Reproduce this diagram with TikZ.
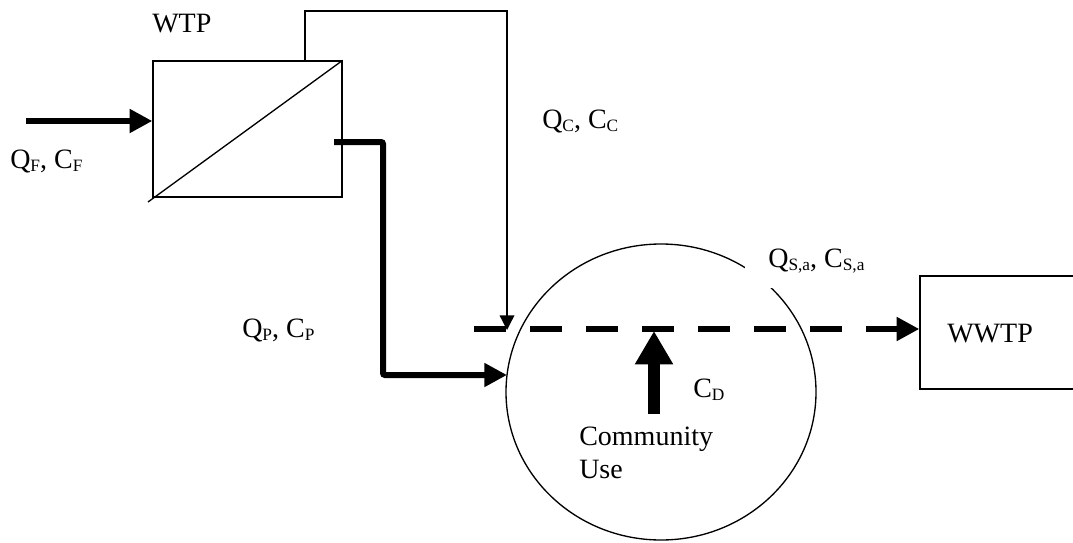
\documentclass[tikz,border=0pt]{standalone}
\usepackage{fontspec}
\setmainfont{Liberation Serif}
\usetikzlibrary{arrows.meta,shapes.geometric}
\newcommand{\lo}[1]{\raisebox{-0.12em}{\fontsize{13}{13}\selectfont #1}}
\begin{document}
\begin{tikzpicture}[x=0.75pt,y=-0.75pt,
  lbl/.style={anchor=base west, inner sep=0pt, font=\fontsize{21}{25}\selectfont},
  thinline/.style={line width=1pt},
  box/.style={draw, thinline, rectangle, inner sep=0pt},
  flow/.style={line width=4.5pt, -{Triangle[length=17pt,width=17pt]}},
  conc/.style={thinline, -{Triangle[length=11pt,width=11pt]}},
  sewer/.style={line width=5pt, dash pattern=on 24pt off 18pt, -{Triangle[length=17pt,width=17pt]}},
  demand/.style={line width=9pt, -{Triangle[length=25pt,width=27pt]}}]
\useasboundingbox (0,0) rectangle (1073,542);

% boxes and circle
\node[box, minimum width=141.75pt, minimum height=102pt] (wtp) at (247.5,129) {};
\node[box, minimum width=117pt, minimum height=84.75pt] (wwtp) at (998,332.5) {};
\node[draw, thinline, ellipse, inner sep=0pt, minimum width=232.5pt, minimum height=222pt] (cu) at (661,392) {};

% membrane diagonal
\coordinate (dg) at (148,202);
\draw[thinline] (wtp.north east) -- (dg);

% white cover for label
\node[fill=white, inner sep=0pt, minimum width=105pt, minimum height=36pt] (qscover) at (815,264) {};

% coordinates
\coordinate (fin) at (26,121);
\coordinate (c0) at (305,61);
\coordinate (c1) at (305,11);
\coordinate (c2) at (507,11);
\coordinate (c3) at (507,330);
\coordinate (p0) at (334,142);
\coordinate (p1) at (383,142);
\coordinate (p2) at (383,375);
\coordinate (p3) at (507,375);
\coordinate (d0) at (474,329);
\coordinate (cd0) at (654,414);
\coordinate (cd1) at (654,331);

% connectors
\draw[flow] (fin) -- (wtp.west |- fin);
\draw[conc] (c0) -- (c1) -- (c2) -- (c3);
\draw[flow, rounded corners=1.5pt] (p0) -- (p1) -- (p2) -- (p3);
\draw[sewer] (d0) -- (wwtp.west |- d0);
\draw[demand] (cd0) -- (cd1);

% labels
\node[lbl] (lwtp) at (152,33) {WTP};
\node[lbl] (lqf) at (10,168) {Q\lo{F}, C\lo{F}};
\node[lbl] (lqc) at (542,128) {Q\lo{C}, C\lo{C}};
\node[lbl] (lqp) at (242,337) {Q\lo{P}, C\lo{P}};
\node[lbl] (lqs) at (768,267) {Q\lo{S,a}, C\lo{S,a}};
\node[lbl] (lcd) at (693,397) {C\lo{D}};
\node[lbl] (lcom) at (579,445) {Community};
\node[lbl] (luse) at (579,478) {Use};
\node[lbl] (lww) at (947,342) {WWTP};
\end{tikzpicture}
\end{document}
